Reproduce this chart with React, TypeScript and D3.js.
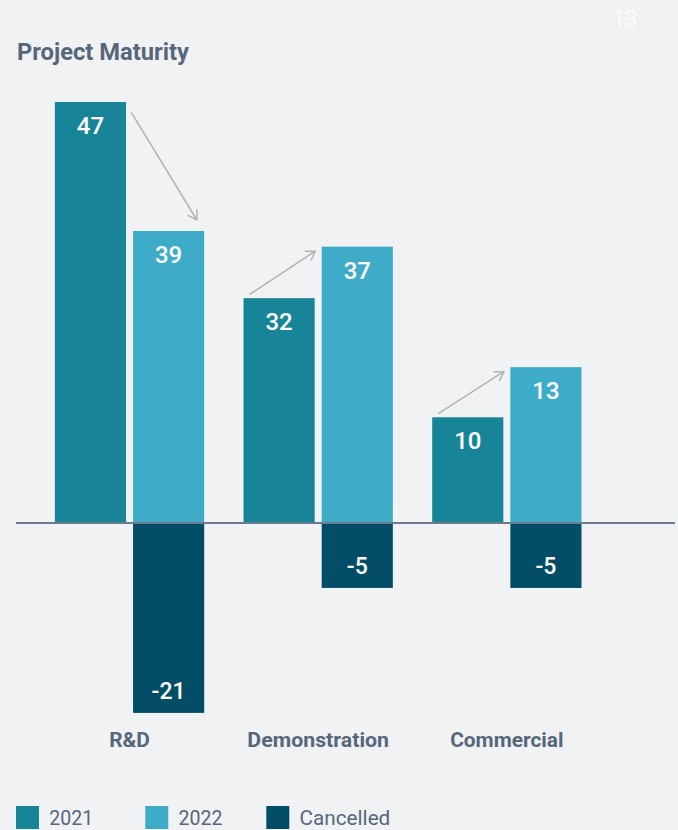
import React from "react";
import * as d3 from "d3";

const categories = ["R&D", "Demonstration", "Commercial"];
const seriesNames = ["2021", "2022", "Cancelled"];
const labels2021 = [47, 32, 10];
const labels2022 = [39, 37, 13];
const labelsCancelled = [-21, -5, -5];
// Bar lengths as drawn in the reference (the chart is not to scale with its labels),
// read off the picture in units where the 47 bar is exact.
const drawn2021 = [47, 25.1, 11.8];
const drawn2022 = [32.6, 30.85, 17.4];
const drawnCancelled = [-21.2, -7.25, -7.25];

const colors = ["#188498", "#3eabc8", "#034e66"];
const BG = "#f1f2f4";
const TEXT = "#56677b";
const ARROW = "#b3b3b3";
const FONT = "Roboto, 'Noto Sans', sans-serif";

function arrowPath(x1: number, y1: number, x2: number, y2: number) {
  const a = Math.atan2(y2 - y1, x2 - x1);
  const L = 10, s = 0.55;
  const p1 = [x2 - L * Math.cos(a - s), y2 - L * Math.sin(a - s)];
  const p2 = [x2 - L * Math.cos(a + s), y2 - L * Math.sin(a + s)];
  return `M${x1},${y1}L${x2},${y2}M${p1[0]},${p1[1]}L${x2},${y2}L${p2[0]},${p2[1]}`;
}

export default function App() {
  const W = 678, H = 830;
  const x = d3
    .scaleBand<string>()
    .domain(categories)
    .range([54.88, 581.5])
    .paddingInner(0.2086)
    .paddingOuter(0);
  const xs = d3
    .scaleBand<string>()
    .domain(["2021", "2022"])
    .range([0, x.bandwidth()])
    .paddingInner(0.0896);
  const y = d3.scaleLinear().domain([0, 47]).range([523, 102]);
  const bw = xs.bandwidth();
  const y0 = y(0);

  return (
    <svg
      width={W}
      height={H}
      style={{ position: "absolute", left: 0, top: 0, display: "block" }}
      fontFamily={FONT}
    >
      <rect x={0} y={0} width={W} height={H} fill={BG} />
      <text x={637} y={27} fill="#ffffff" fontSize={24} fontWeight={300} textAnchor="end" textLength={24} lengthAdjust="spacingAndGlyphs">
        13
      </text>
      <text x={17} y={60} fill={TEXT} fontSize={23} fontWeight={700} textLength={172} lengthAdjust="spacingAndGlyphs">
        Project Maturity
      </text>

      {categories.map((c, i) => {
        const gx = x(c)!;
        const x1 = gx + xs("2021")!;
        const x2 = gx + xs("2022")!;
        const t1 = y(drawn2021[i]);
        const t2 = y(drawn2022[i]);
        const b3 = y(drawnCancelled[i]);
        const inc = labels2022[i] >= labels2021[i];
        const ap = inc
          ? arrowPath(x1 + 6.5, t1 - 4, x2 - 6.3, t2 + 4.3)
          : arrowPath(x1 + bw + 5.4, t1 + 10.7, x2 + bw - 7.3, t2 - 11);
        return (
          <g key={c}>
            <rect x={x1} y={t1} width={bw} height={y0 - t1} fill={colors[0]} />
            <rect x={x2} y={t2} width={bw} height={y0 - t2} fill={colors[1]} />
            <rect x={x2} y={y0} width={bw} height={b3 - y0} fill={colors[2]} />
            <path d={ap} fill="none" stroke={ARROW} strokeWidth={1.5} strokeLinecap="round" strokeLinejoin="round" />
            <text x={x1 + bw / 2} y={t1 + 32} fill="#fff" fontSize={24} fontWeight={500} textAnchor="middle">
              {labels2021[i]}
            </text>
            <text x={x2 + bw / 2} y={t2 + 32} fill="#fff" fontSize={24} fontWeight={500} textAnchor="middle">
              {labels2022[i]}
            </text>
            <text x={x2 + bw / 2} y={b3 - 14} fill="#fff" fontSize={23} fontWeight={500} textAnchor="middle">
              {labelsCancelled[i]}
            </text>
          </g>
        );
      })}

      <line x1={16} x2={675} y1={y0} y2={y0} stroke="#6b7c8e" strokeWidth={2} />

      {categories.map((c, i) => {
        const widths = [40.7, 141.7, 113.3];
        return (
          <text
            key={c}
            x={x(c)! + x.bandwidth() / 2}
            y={747}
            fill={TEXT}
            fontSize={20}
            fontWeight={700}
            textAnchor="middle"
            textLength={widths[i]}
            lengthAdjust="spacingAndGlyphs"
          >
            {c}
          </text>
        );
      })}

      {seriesNames.map((s, i) => {
        const lx = [16, 145.3, 266.3][i];
        const tw = [44, 44, 90.7][i];
        return (
          <g key={s}>
            <rect x={lx} y={806} width={23} height={23} fill={colors[i]} />
            <text x={lx + 33.3} y={825} fill={TEXT} fontSize={21} fontWeight={400} textLength={tw} lengthAdjust="spacingAndGlyphs">
              {s}
            </text>
          </g>
        );
      })}
    </svg>
  );
}
